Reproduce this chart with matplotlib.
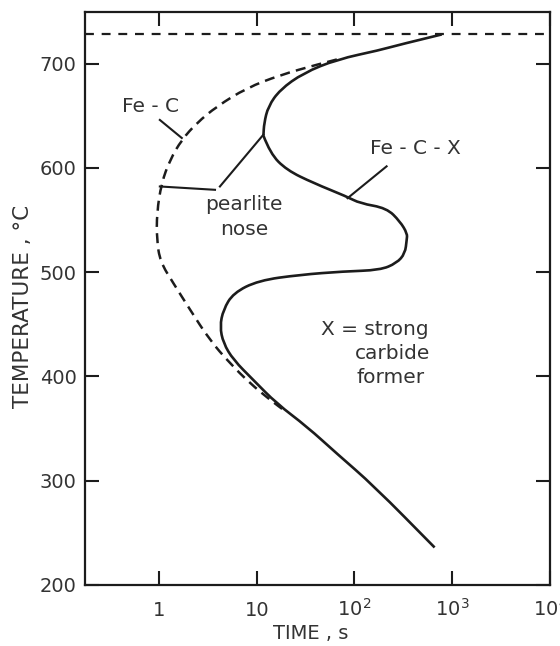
import numpy as np
import matplotlib.pyplot as plt
from matplotlib.path import Path
from matplotlib.patches import PathPatch

# TTT curves: time (s), temperature (deg C)
fec_t = [66, 41, 17.3, 7.9, 3.9, 2.43, 1.71, 1.30, 1.06, 0.95, 0.95, 1.03,
         1.40, 2.08, 3.3, 5.3, 8.5, 13.7, 20]
fec_T = [704, 699, 689, 676.7, 659, 643, 627, 608, 585.5, 556.7, 531, 510,
         489.5, 464, 435, 412.8, 393.6, 377.5, 366]

fecx_t = [780, 270, 182, 66, 30, 17.3, 13.1, 11.9, 11.7, 13.7, 20.2, 38, 83,
          114, 213, 292, 347, 342, 329, 270, 182, 77, 27.7, 10.4, 5.76, 4.55,
          4.2, 4.55, 5.76, 9.2, 16, 32.5, 66, 158, 660]
fecx_T = [728, 717.5, 713, 704, 691, 675, 659, 643, 631, 614, 598, 585.5, 572.6,
          566, 561.5, 548.7, 537, 531, 518, 508.7, 502, 500.7, 497.5, 492, 480,
          464, 448, 432, 416, 396.7, 374, 352, 326, 295, 236]
nose = 8  # index of the pearlite nose on the Fe-C-X curve

A1 = 728  # eutectoid temperature

xticks = [1, 10, 100, 1000, 10000]
xlabels = ['1', '10', '$10^2$', '$10^3$', '$10^4$']
yticks = [200, 300, 400, 500, 600, 700]

ink = '#1c1c1c'
txt = '#333333'


def smooth(t, T):
    # quadratic bezier through segment midpoints (geometric mean in t, log axis)
    pts = list(zip(t, T))
    verts = [pts[0]]
    codes = [Path.MOVETO]
    for i in range(1, len(pts) - 1):
        a, b = pts[i], pts[i + 1]
        mid = (np.sqrt(a[0] * b[0]), 0.5 * (a[1] + b[1]))
        verts += [a, mid]
        codes += [Path.CURVE3, Path.CURVE3]
    verts.append(pts[-1])
    codes.append(Path.LINETO)
    return Path(verts, codes)


fig = plt.figure(figsize=(5.6, 6.46), dpi=100)
ax = fig.add_axes([85 / 560, 61 / 646, 465 / 560, 573.5 / 646])

ax.axhline(A1, color=ink, lw=1.6, ls=(0, (4, 3.5)))
ax.add_patch(PathPatch(smooth(fec_t, fec_T), fill=False, edgecolor=ink,
                       lw=1.8, ls=(0, (4, 2.5))))
ax.add_patch(PathPatch(smooth(fecx_t[:nose + 1], fecx_T[:nose + 1]),
                       fill=False, edgecolor=ink, lw=1.9))
ax.add_patch(PathPatch(smooth(fecx_t[nose:], fecx_T[nose:]),
                       fill=False, edgecolor=ink, lw=1.9))

# leader lines for the labels
ax.plot([1.02, 1.71], [646, 628.7], color=ink, lw=1.5)
ax.plot([1.02, 3.74], [582.2, 579], color=ink, lw=1.5)
ax.plot([4.2, 11.7], [582.2, 631.9], color=ink, lw=1.5)
ax.plot([213, 85], [601.5, 571], color=ink, lw=1.5)

fs = 14.5
ax.text(0.81, 659, 'Fe - C', ha='center', va='center', fontsize=fs, color=txt)
ax.text(7.4, 564.7, 'pearlite', ha='center', va='center', fontsize=fs, color=txt)
ax.text(7.4, 540.7, 'nose', ha='center', va='center', fontsize=fs, color=txt)
ax.text(416, 619, 'Fe - C - X', ha='center', va='center', fontsize=fs, color=txt)
ax.text(45, 444.7, 'X = strong', ha='left', va='center', fontsize=fs, color=txt)
ax.text(101, 421.7, 'carbide', ha='left', va='center', fontsize=fs, color=txt)
ax.text(106, 398.6, 'former', ha='left', va='center', fontsize=fs, color=txt)

ax.set_xscale('log')
ax.set_xlim(10 ** -0.757, 10000)
ax.set_ylim(200, 750)
ax.xaxis.set_minor_locator(plt.NullLocator())
ax.set_xticks(xticks)
ax.set_xticklabels(xlabels)
ax.set_yticks(yticks)

ax.tick_params(direction='in', length=10, width=1.5, colors=ink,
               labelcolor=txt, labelsize=14, top=True, right=True)
ax.tick_params(axis='y', pad=6)
ax.tick_params(axis='x', pad=22)
for lab in ax.get_xticklabels():
    lab.set_verticalalignment('baseline')
for s in ax.spines.values():
    s.set_linewidth(1.6)
    s.set_color(ink)

ax.set_xlabel('TIME , s', fontsize=14, color=txt)
ax.xaxis.set_label_coords(0.486, -0.068)
ax.set_ylabel('TEMPERATURE , °C', fontsize=15.5, color=txt)
ax.yaxis.set_label_coords(-0.112, 0.485)

fig.savefig('out.png', dpi=100)
